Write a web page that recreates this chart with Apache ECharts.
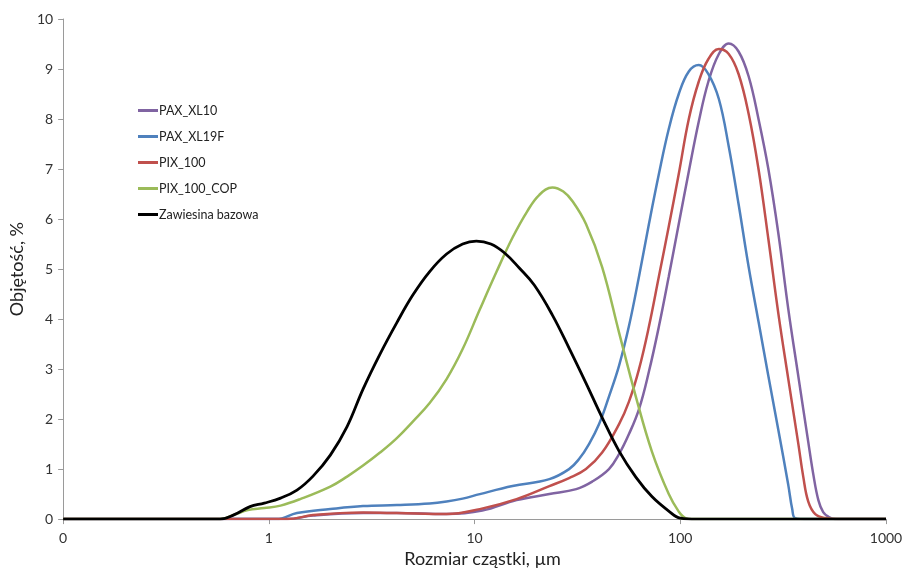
<!DOCTYPE html>
<html>
<head>
<meta charset="utf-8">
<script src="https://cdn.jsdelivr.net/npm/echarts@6/dist/echarts.min.js"></script>
<style>
    html, body {
        margin: 0;
        padding: 0;
        background: #fff;
    }
    #chartContainer {
        width: 907px;
        height: 573px;
    }
</style>
</head>
<body>
<div id="chartContainer"></div>
<script>
// nazwy serii
const seriesNames = ['PAX_XL10', 'PAX_XL19F', 'PIX_100', 'PIX_100_COP', 'Zawiesina bazowa'];
const yTicks = [0, 1, 2, 3, 4, 5, 6, 7, 8, 9, 10];

// PAX_XL10
const pax10Size = [0.1, 1.23, 1.64, 2.87, 4.19, 7.31, 10.9, 16.0, 23.1, 31.2, 37.3, 45.0, 50.4, 56.3, 63.0, 70.4, 78.7, 87.9, 98.3, 110, 123, 137, 154, 172, 192, 215, 240, 268, 300, 335, 375, 419, 443, 469, 495, 524, 566, 1000];
const pax10Vol = [0, 0, 0.07, 0.12, 0.12, 0.10, 0.17, 0.38, 0.50, 0.60, 0.75, 1.0, 1.3, 1.7, 2.2, 2.95, 3.85, 4.85, 5.9, 6.95, 7.95, 8.75, 9.3, 9.51, 9.35, 8.85, 8.0, 7.0, 5.7, 4.2, 2.85, 1.54, 0.9, 0.38, 0.14, 0.05, 0, 0];

// PAX_XL19F
const pax19Size = [0.1, 1.09, 1.37, 1.99, 2.87, 4.19, 6.05, 7.31, 8.75, 10.6, 15.3, 23.1, 28.8, 32.2, 36.0, 40.3, 45.0, 50.4, 56.3, 63.0, 70.4, 78.7, 87.9, 98.3, 110, 123, 137, 154, 172, 192, 215, 240, 268, 300, 335, 350, 362, 420, 1000];
const pax19Vol = [0, 0, 0.12, 0.20, 0.26, 0.28, 0.31, 0.35, 0.41, 0.50, 0.66, 0.80, 1.0, 1.2, 1.5, 1.9, 2.45, 3.07, 3.86, 4.85, 5.9, 6.9, 7.8, 8.5, 8.95, 9.08, 8.9, 8.4, 7.45, 6.3, 5.04, 3.95, 2.86, 1.77, 0.68, 0.2, 0.02, 0, 0];

// PIX_100
const pix100Size = [0.1, 1.23, 1.64, 2.87, 4.19, 7.31, 10.6, 16.0, 23.1, 28.8, 34.8, 41.7, 50.4, 56.3, 63.0, 70.4, 78.7, 87.9, 98.3, 110, 123, 137, 154, 172, 192, 215, 240, 268, 300, 335, 375, 396, 419, 453, 507, 586, 1000];
const pix100Vol = [0, 0, 0.08, 0.13, 0.12, 0.10, 0.20, 0.40, 0.66, 0.82, 1.0, 1.33, 1.9, 2.35, 3.0, 3.85, 4.85, 5.85, 6.9, 8.0, 8.75, 9.2, 9.40, 9.30, 8.9, 8.1, 7.0, 5.6, 4.1, 2.8, 1.5, 0.85, 0.35, 0.10, 0.02, 0, 0];

// PIX_100_COP
const copSize = [0.1, 0.58, 0.68, 0.79, 0.95, 1.14, 1.42, 1.99, 2.40, 2.87, 3.47, 4.19, 5.01, 6.05, 7.31, 8.75, 10.6, 12.8, 15.3, 18.0, 20.6, 23.9, 27.0, 30.0, 34.8, 41.7, 50.4, 60.8, 72.8, 87.9, 98.3, 106, 115, 1000];
const copVol = [0, 0, 0.09, 0.18, 0.22, 0.27, 0.40, 0.65, 0.85, 1.07, 1.33, 1.62, 1.95, 2.32, 2.80, 3.40, 4.19, 4.95, 5.63, 6.15, 6.48, 6.63, 6.55, 6.35, 5.90, 5.04, 3.73, 2.45, 1.35, 0.50, 0.15, 0.02, 0, 0];

// Zawiesina bazowa
const baseSize = [0.1, 0.58, 0.68, 0.81, 0.95, 1.14, 1.37, 1.64, 1.99, 2.40, 2.87, 3.47, 4.19, 5.01, 6.05, 7.31, 8.75, 10.2, 12.0, 14.0, 16.5, 19.5, 23.9, 28.8, 34.8, 41.7, 50.4, 60.8, 72.8, 87.9, 100, 120, 1000];
const baseVol = [0, 0, 0.09, 0.25, 0.32, 0.42, 0.58, 0.86, 1.28, 1.85, 2.60, 3.30, 3.93, 4.48, 4.95, 5.30, 5.50, 5.56, 5.50, 5.32, 5.02, 4.68, 4.08, 3.42, 2.72, 2.03, 1.36, 0.84, 0.45, 0.16, 0.02, 0, 0];

const colors = ['#8064A2', '#4F81BD', '#C0504D', '#9BBB59', '#000000'];

function pairs(xs, ys) {
    return xs.map((x, i) => [x, ys[i]]);
}

const seriesData = [
    pairs(pax10Size, pax10Vol),
    pairs(pax19Size, pax19Vol),
    pairs(pix100Size, pix100Vol),
    pairs(copSize, copVol),
    pairs(baseSize, baseVol)
];

const chart = echarts.init(document.getElementById('chartContainer'));

chart.setOption({
    animation: false,
    textStyle: {
        fontFamily: 'Lato'
    },
    legend: {
        orient: 'vertical',
        left: 133,
        top: 99,
        itemGap: 13,
        itemWidth: 20,
        itemHeight: 3,
        icon: 'rect',
        data: seriesNames,
        textStyle: {
            color: '#222',
            fontSize: 12.5,
            fontFamily: 'Lato',
            padding: [0, 0, 0, -4]
        }
    },
    grid: {
        left: 62,
        right: 21,
        top: 19,
        bottom: 47,
        containLabel: false
    },
    xAxis: {
        type: 'log',
        logBase: 10,
        min: 0.1,
        max: 1000,
        name: 'Rozmiar cząstki, µm',
        nameLocation: 'middle',
        nameGap: 29,
        nameTextStyle: {
            color: '#222',
            fontSize: 18,
            fontFamily: 'Lato',
            padding: [0, 0, 0, 16]
        },
        axisLine: {
            lineStyle: { color: '#9a9a9a', width: 1 }
        },
        axisTick: {
            show: true,
            length: 5,
            lineStyle: { color: '#9a9a9a' }
        },
        minorTick: { show: false },
        splitLine: { show: false },
        axisLabel: {
            color: '#333',
            fontSize: 14,
            margin: 12,
            formatter: (value) => {
                // Excel pokazuje 0.1 jako "0"
                return value < 1 ? '0' : String(Math.round(value));
            }
        }
    },
    yAxis: {
        type: 'value',
        min: yTicks[0],
        max: yTicks[yTicks.length - 1],
        interval: 1,
        name: 'Objętość, %',
        nameLocation: 'middle',
        nameGap: 28,
        nameTextStyle: {
            color: '#222',
            fontSize: 18,
            fontFamily: 'Lato'
        },
        axisLine: {
            show: true,
            lineStyle: { color: '#9a9a9a', width: 1 }
        },
        axisTick: {
            show: true,
            length: 5,
            lineStyle: { color: '#9a9a9a' }
        },
        splitLine: { show: false },
        axisLabel: {
            color: '#333',
            fontSize: 14,
            margin: 10
        }
    },
    series: seriesNames.map((name, i) => ({
        name: name,
        type: 'line',
        data: seriesData[i],
        smooth: 0.4,
        showSymbol: false,
        clip: true,
        z: i === 4 ? 5 : 2,
        lineStyle: {
            color: colors[i],
            width: i === 4 ? 2.8 : 2.5
        },
        itemStyle: {
            color: colors[i]
        }
    }))
});
</script>
</body>
</html>
